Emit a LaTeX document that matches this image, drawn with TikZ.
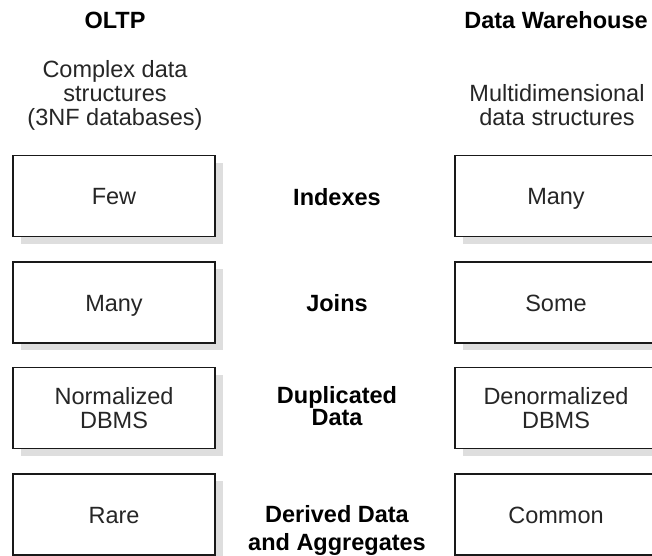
\documentclass[tikz,border=0pt]{standalone}
\usepackage{fontspec}
\setmainfont{Liberation Sans}
\usetikzlibrary{shadows}
\begin{document}
\begin{tikzpicture}[x=1pt,y=-1pt,
  box/.style={draw=black!90, line width=1.8pt, fill=white, minimum width=202pt,
    minimum height=81pt, inner sep=0pt, align=center,
    font=\fontsize{23.5}{23.5}\selectfont, text=black!85,
    drop shadow={shadow xshift=8pt, shadow yshift=-7pt, fill=black!13, opacity=1}},
  oneline/.style={text height=17pt, text depth=0pt},
  head/.style={anchor=base, font=\bfseries\fontsize{23.5}{23.5}\selectfont, text=black},
  sub/.style={anchor=base, align=center, font=\fontsize{23.5}{24}\selectfont, text=black!85},
  mid/.style={anchor=base, align=center, font=\bfseries\fontsize{23.5}{22}\selectfont, text=black}]
\useasboundingbox (0,0) rectangle (652,555);
\clip (0,0) rectangle (652,555);

\node[head] (oltp) at (115,28) {OLTP};
\node[head] (dw) at (556,28) {Data Warehouse};
\node[sub] (oltpsub) at (115,125) {Complex data\\structures\\(3NF databases)};
\node[sub] (dwsub) at (557,125) {Multidimensional\\data structures};

\node[box, oneline] (l1) at (114,196) {Few};
\node[box, oneline] (l2) at (114,302.5) {Many};
\node[box] (l3) at (114,408) {Normalized\\DBMS};
\node[box, oneline] (l4) at (114,514.5) {Rare};

\node[box, oneline] (r1) at (556,196) {Many};
\node[box, oneline] (r2) at (556,302.5) {Some};
\node[box] (r3) at (556,408) {Denormalized\\DBMS};
\node[box, oneline] (r4) at (556,514.5) {Common};

\node[mid] (m1) at (337,205) {Indexes};
\node[mid] (m2) at (337,311) {Joins};
\node[mid] (m3) at (337,425) {Duplicated\\Data};
\node[mid] (m4) at (337,550) {Derived Data\\[6pt]and Aggregates};
\end{tikzpicture}
\end{document}
